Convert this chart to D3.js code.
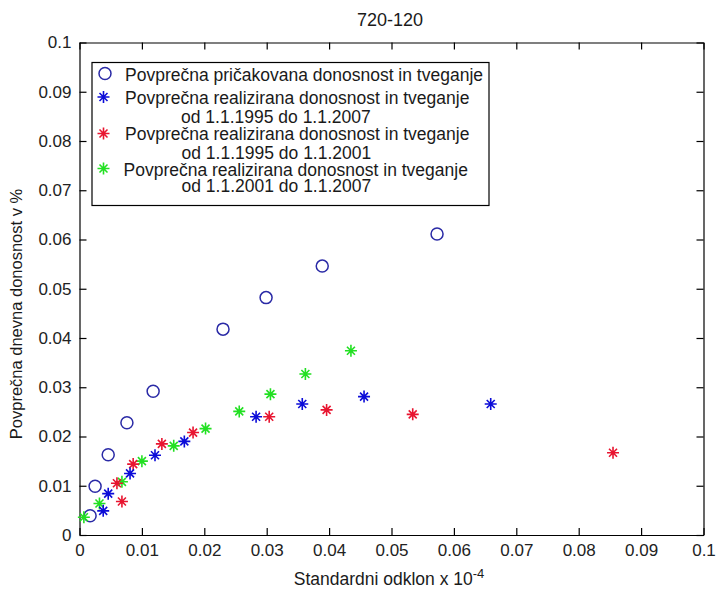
<html>
<head>
<meta charset="utf-8">
<title>720-120</title>
<script src="https://cdn.jsdelivr.net/npm/d3@7"></script>
<style>
  body { margin: 0; background: #fff; }
  text { font-family: "Liberation Sans", Arial, sans-serif; fill: #1a1a1a; }
</style>
</head>
<body>
<script>
// expected return / risk (circles)
var expX = [0.0017, 0.0025, 0.0046, 0.0076, 0.0118, 0.0230, 0.0299, 0.0389, 0.0573];
var expY = [0.0039, 0.0099, 0.0163, 0.0228, 0.0292, 0.0418, 0.0482, 0.0546, 0.0611];
// realized 1.1.1995 - 1.1.2007 (blue)
var r9507X = [0.0038, 0.0046, 0.0081, 0.0121, 0.0168, 0.0283, 0.0357, 0.0456, 0.0659];
var r9507Y = [0.0049, 0.0084, 0.0125, 0.0162, 0.0190, 0.0240, 0.0266, 0.0281, 0.0266];
// realized 1.1.1995 - 1.1.2001 (red)
var r9501X = [0.0060, 0.0068, 0.0086, 0.0132, 0.0182, 0.0304, 0.0396, 0.0534, 0.0855];
var r9501Y = [0.0105, 0.0068, 0.0144, 0.0185, 0.0208, 0.0240, 0.0254, 0.0245, 0.0167];
// realized 1.1.2001 - 1.1.2007 (green)
var r0107X = [0.0007, 0.0032, 0.0068, 0.0100, 0.0151, 0.0202, 0.0256, 0.0306, 0.0362, 0.0435];
var r0107Y = [0.0036, 0.0064, 0.0108, 0.0150, 0.0181, 0.0216, 0.0251, 0.0286, 0.0327, 0.0374];

var xTicks = [0, 0.01, 0.02, 0.03, 0.04, 0.05, 0.06, 0.07, 0.08, 0.09, 0.1];
var yTicks = [0, 0.01, 0.02, 0.03, 0.04, 0.05, 0.06, 0.07, 0.08, 0.09, 0.1];
var tickLabels = ["0", "0.01", "0.02", "0.03", "0.04", "0.05", "0.06", "0.07", "0.08", "0.09", "0.1"];

var w = 716, h = 589;
var plotL = 79.5, plotR = 703.5, plotT = 42.5, plotB = 535;

var svg = d3.select("body").append("svg").attr("width", w).attr("height", h);

var x = d3.scaleLinear().domain([0, 0.1]).range([plotL, plotR]);
var y = d3.scaleLinear().domain([0, 0.1]).range([plotB, plotT]);

function fmt(d, i) { return tickLabels[i]; }

// axes (ticks pointing inward, box all round)
svg.append("g").attr("transform", "translate(0," + plotB + ")")
   .call(d3.axisBottom(x).tickValues(xTicks).tickFormat(fmt).tickSize(-7).tickSizeOuter(0).tickPadding(9));
svg.append("g").attr("transform", "translate(" + plotL + ",0)")
   .call(d3.axisLeft(y).tickValues(yTicks).tickFormat(fmt).tickSize(-7).tickSizeOuter(0).tickPadding(8));
svg.append("g").attr("transform", "translate(0," + plotT + ")")
   .call(d3.axisTop(x).tickValues(xTicks).tickFormat("").tickSize(-7).tickSizeOuter(0));
svg.append("g").attr("transform", "translate(" + plotR + ",0)")
   .call(d3.axisRight(y).tickValues(yTicks).tickFormat("").tickSize(-7).tickSizeOuter(0));

svg.selectAll(".tick text").attr("font-size", 17).attr("font-family", null).style("fill", "#222");
svg.selectAll(".domain, .tick line").attr("stroke", "#000").attr("stroke-width", 1.2);

// title and labels
svg.append("text").attr("x", 390).attr("y", 26).attr("text-anchor", "middle")
   .attr("font-size", 18).text("720-120");

var xl = svg.append("text").attr("x", 389).attr("y", 585).attr("text-anchor", "middle").attr("font-size", 17.5);
xl.append("tspan").text("Standardni odklon x 10");
xl.append("tspan").attr("dy", -7).attr("font-size", 13).text("-4");

svg.append("text").attr("transform", "translate(22,314) rotate(-90)").attr("text-anchor", "middle")
   .attr("font-size", 16.5).text("Povprečna dnevna donosnost v %");

var starPath = "M-6,0H6M0,-6V6M-4,-4L4,4M-4,4L4,-4";

function stars(xs, ys, color) {
  svg.append("g").selectAll("path").data(xs).enter().append("path")
     .attr("transform", function(d, i) { return "translate(" + x(d) + "," + y(ys[i]) + ")"; })
     .attr("d", starPath).attr("stroke", color).attr("stroke-width", 1.6).attr("fill", "none");
}

svg.append("g").selectAll("circle").data(expX).enter().append("circle")
   .attr("cx", function(d) { return x(d); })
   .attr("cy", function(d, i) { return y(expY[i]); })
   .attr("r", 6).attr("fill", "none").attr("stroke", "#2a2aa6").attr("stroke-width", 1.5);

stars(r0107X, r0107Y, "#22e022");
stars(r9501X, r9501Y, "#e81530");
stars(r9507X, r9507Y, "#0c0cd8");

// legend
var lg = svg.append("g");
lg.append("rect").attr("x", 92).attr("y", 62.5).attr("width", 397).attr("height", 143)
  .attr("fill", "#fff").attr("stroke", "#000").attr("stroke-width", 1.2);

var legendLines = [
  [125, 80.5, "Povprečna pričakovana donosnost in tveganje"],
  [125, 104, "Povprečna realizirana donosnost in tveganje"],
  [181, 122.5, "od 1.1.1995 do 1.1.2007"],
  [125, 140, "Povprečna realizirana donosnost in tveganje"],
  [181.5, 158.5, "od 1.1.1995 do 1.1.2001"],
  [123.5, 176, "Povprečna realizirana donosnost in tveganje"],
  [181.5, 192, "od 1.1.2001 do 1.1.2007"]
];
lg.selectAll("text.l").data(legendLines).enter().append("text").attr("class", "l")
  .attr("x", function(d) { return d[0]; }).attr("y", function(d) { return d[1]; })
  .attr("font-size", 17.5).text(function(d) { return d[2]; });

lg.append("circle").attr("cx", 105).attr("cy", 73.5).attr("r", 6)
  .attr("fill", "none").attr("stroke", "#2a2aa6").attr("stroke-width", 1.5);
var legendStars = [[103.5, 97, "#0c0cd8"], [103.5, 133.5, "#e81530"], [103.5, 168.5, "#22e022"]];
lg.selectAll("path").data(legendStars).enter().append("path")
  .attr("transform", function(d) { return "translate(" + d[0] + "," + d[1] + ")"; })
  .attr("d", starPath).attr("stroke", function(d) { return d[2]; })
  .attr("stroke-width", 1.6).attr("fill", "none");
</script>
</body>
</html>
